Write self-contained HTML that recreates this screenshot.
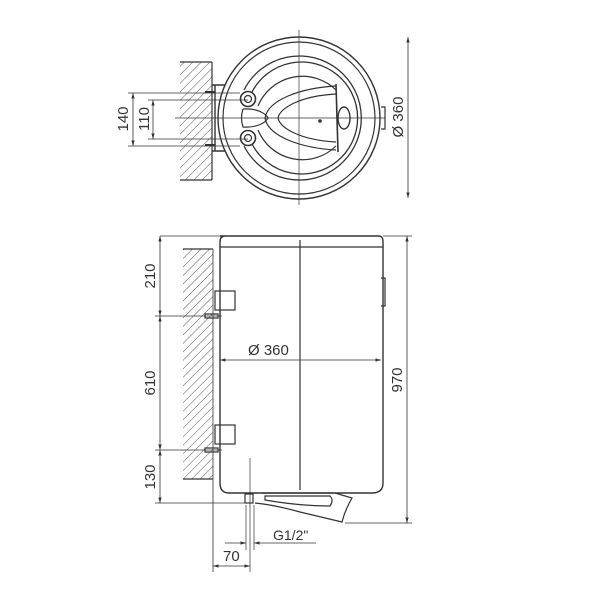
<!DOCTYPE html>
<html><head><style>body{margin:0;background:#fff}svg{display:block}text{font-family:"Liberation Sans",sans-serif;fill:#333}</style></head>
<body>
<svg width="600" height="600" viewBox="0 0 600 600" xmlns="http://www.w3.org/2000/svg">
<defs>
<pattern id="h" width="6" height="6" patternUnits="userSpaceOnUse" patternTransform="rotate(45)">
<line x1="0" y1="0" x2="0" y2="6" stroke="#555" stroke-width="1"/></pattern>
<marker id="a" viewBox="0 0 10 10" refX="10" refY="5" markerWidth="7" markerHeight="7" orient="auto-start-reverse"><path d="M0,2 L10,5 L0,8 z" fill="#333"/></marker>
</defs>
<g stroke="#333" fill="none" stroke-width="1.2">
<!-- top view -->
<rect x="180" y="62" width="32" height="118" fill="url(#h)" stroke="none"/>
<line x1="180" y1="62" x2="212" y2="62"/><line x1="180" y1="180" x2="212" y2="180"/><line x1="212" y1="62" x2="212" y2="180"/>
<path d="M212,85 H225 M212,151 H225 M215,85 V151" stroke-width="1.4"/>
<path d="M205,92 H215 M205,145 H215" stroke-width="2"/>
<circle cx="299" cy="118" r="81" stroke-width="1.4"/>
<circle cx="299" cy="118" r="76"/>
<path d="M244,90 A62,62 0 1 1 244,146" stroke-width="1.3"/>
<path d="M252,92 A56,56 0 1 1 252,144" stroke-width="1.3"/>
<path d="M258,106 A48,48 0 0 1 336,90" />
<path d="M258,130 A48,48 0 0 0 336,146" />
<path d="M336,86 C300,88 268,100 265,118 C268,136 300,148 336,150"/>
<path d="M336,94 C300,96 280,108 278,118 C280,128 300,140 336,142"/>
<path d="M243,109 C258,108 266,114 268,118 C266,122 258,128 243,127 Q240,118 243,109"/>
<path d="M336,84 L338,152" stroke-width="1.6"/>
<ellipse cx="344" cy="118" rx="6" ry="11" stroke-width="1.4"/>
<path d="M381,107 H385 V129 H381"/>
<circle cx="248" cy="99" r="7.5" stroke-width="1.6"/><circle cx="248" cy="99" r="3.5"/>
<circle cx="248" cy="138" r="7.5" stroke-width="1.6"/><circle cx="248" cy="138" r="3.5"/>
<circle cx="320" cy="121" r="1.2" fill="#333"/>
<line x1="299" y1="30" x2="299" y2="205" stroke-width="0.7"/>
<line x1="175" y1="118" x2="385" y2="118" stroke-width="0.7"/>
<line x1="128" y1="93" x2="240" y2="93" stroke-width="0.7"/>
<line x1="128" y1="146" x2="240" y2="146" stroke-width="0.7"/>
<line x1="148" y1="100" x2="248" y2="100" stroke-width="0.7"/>
<line x1="148" y1="139" x2="248" y2="139" stroke-width="0.7"/>
<line x1="133" y1="93" x2="133" y2="146" marker-start="url(#a)" marker-end="url(#a)" stroke-width="0.8"/>
<line x1="153" y1="100" x2="153" y2="139" marker-start="url(#a)" marker-end="url(#a)" stroke-width="0.8"/>
<line x1="408" y1="37" x2="408" y2="198" marker-start="url(#a)" marker-end="url(#a)" stroke-width="0.8"/>
<!-- side view -->
<rect x="183" y="249" width="30" height="230" fill="url(#h)" stroke="none"/>
<line x1="183" y1="249" x2="213" y2="249"/><line x1="183" y1="479" x2="213" y2="479"/>
<line x1="213" y1="249" x2="213" y2="572" stroke-width="0.8"/>
<path d="M220,236 H379 Q383,236 383,242 V483 Q383,493 372,493 H229 Q220,493 220,483 V242 Q220,236 225,236" stroke-width="1.4"/>
<line x1="220" y1="247" x2="383" y2="247" stroke-width="1.3"/>
<path d="M381,278 H385 V306 H381"/>
<rect x="215" y="291" width="20" height="19"/>
<rect x="215" y="425" width="20" height="19"/>
<path d="M205,314 H218 V318 H205 Z M205,448 H218 V452 H205 Z"/>
<line x1="300" y1="240" x2="300" y2="490"/>
<line x1="220" y1="360" x2="381" y2="360" marker-start="url(#a)" marker-end="url(#a)" stroke-width="0.8"/>
<path d="M262,493 H335 L352,498 Q345,510 342,522 L300,512 Q275,505 255,503"/>
<path d="M265,496 H330 Q334,500 330,506 Q300,506 265,500 Z"/>
<rect x="245" y="494" width="8" height="9"/>
<line x1="160" y1="236" x2="220" y2="236" stroke-width="0.7"/>
<line x1="155" y1="316" x2="222" y2="316" stroke-width="0.7"/>
<line x1="155" y1="450" x2="222" y2="450" stroke-width="0.7"/>
<line x1="155" y1="503" x2="245" y2="503" stroke-width="0.7"/>
<line x1="160" y1="236" x2="160" y2="316" marker-start="url(#a)" marker-end="url(#a)" stroke-width="0.8"/>
<line x1="160" y1="316" x2="160" y2="450" marker-start="url(#a)" marker-end="url(#a)" stroke-width="0.8"/>
<line x1="160" y1="450" x2="160" y2="503" marker-start="url(#a)" marker-end="url(#a)" stroke-width="0.8"/>
<line x1="383" y1="236" x2="412" y2="236" stroke-width="0.7"/>
<line x1="345" y1="523" x2="412" y2="523" stroke-width="0.7"/>
<line x1="407" y1="236" x2="407" y2="523" marker-start="url(#a)" marker-end="url(#a)" stroke-width="0.8"/>
<line x1="250" y1="458" x2="250" y2="572" stroke-width="0.7"/>
<line x1="246" y1="505" x2="246" y2="550" stroke-width="0.7"/>
<line x1="254" y1="505" x2="254" y2="550" stroke-width="0.7"/>
<line x1="225" y1="543" x2="246" y2="543" marker-end="url(#a)" stroke-width="0.8"/>
<line x1="316" y1="543" x2="254" y2="543" marker-end="url(#a)" stroke-width="0.8"/>
<line x1="213" y1="566" x2="250" y2="566" marker-start="url(#a)" marker-end="url(#a)" stroke-width="0.8"/>
</g>
<g font-size="15">
<text transform="translate(128,119) rotate(-90)" text-anchor="middle">140</text>
<text transform="translate(149,119) rotate(-90)" text-anchor="middle">110</text>
<text transform="translate(403,117) rotate(-90)" text-anchor="middle">Ø 360</text>
<text transform="translate(155,276) rotate(-90)" text-anchor="middle">210</text>
<text transform="translate(155,383) rotate(-90)" text-anchor="middle">610</text>
<text transform="translate(155,477) rotate(-90)" text-anchor="middle">130</text>
<text transform="translate(402,380) rotate(-90)" text-anchor="middle">970</text>
<text x="248" y="355">Ø 360</text>
<text x="223" y="561">70</text>
<text x="273" y="540" font-size="14">G1/2"</text>
</g>
</svg>
</body></html>
